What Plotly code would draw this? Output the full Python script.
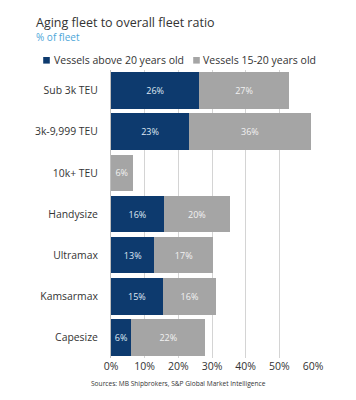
import plotly.graph_objects as go

categories = ["Sub 3k TEU", "3k-9,999 TEU", "10k+ TEU", "Handysize", "Ultramax", "Kamsarmax", "Capesize"]
above20 = [26.2, 23.2, 0, 15.7, 12.9, 15.4, 6.0]
age15to20 = [26.6, 36.1, 6.4, 19.6, 17.4, 15.8, 22.0]
above20_labels = ["26%", "23%", "", "16%", "13%", "15%", "6%"]
age15to20_labels = ["27%", "36%", "6%", "20%", "17%", "16%", "22%"]
series_names = ["Vessels above 20 years old", "Vessels 15-20 years old"]
x_ticks = [0, 10, 20, 30, 40, 50, 60]
x_ticklabels = ["0%", "10%", "20%", "30%", "40%", "50%", "60%"]

FONT = "Open Sans"
NAVY = "#0d3a6e"
GRAY = "#a5a5a5"
TXT = "#333333"
# page body has an 8px margin, so the figure is laid out 8px up/left
W, H = 340, 384
L, R, T, B = 103, 35, 62, 34
PW, PH = W - L - R, H - T - B


def px_x(x):
    return (x - L) / PW


def px_y(y):
    return (H - B - y) / PH


fig = go.Figure()
fig.add_trace(go.Bar(
    y=categories, x=above20, orientation="h", name=series_names[0],
    marker=dict(color=NAVY, line=dict(width=0)),
    text=above20_labels, textposition="inside", insidetextanchor="middle",
    textfont=dict(color="#dfe8f3", size=9, family=FONT),
))
fig.add_trace(go.Bar(
    y=categories, x=age15to20, orientation="h", name=series_names[1],
    marker=dict(color=GRAY, line=dict(width=0)),
    text=age15to20_labels, textposition="inside", insidetextanchor="middle",
    textfont=dict(color="#f2f2f2", size=9, family=FONT),
))

# custom legend (square + label) to match the compact reference legend
legend_items = [(38.5, 44, NAVY, series_names[0]), (188.5, 193, GRAY, series_names[1])]
LEG_Y = 52.3
SQ = 3.3
shapes = []
annotations = []
for cx, tx, col, name in legend_items:
    shapes.append(dict(type="rect", xref="paper", yref="paper",
                       x0=px_x(cx - SQ), x1=px_x(cx + SQ),
                       y0=px_y(LEG_Y + SQ), y1=px_y(LEG_Y - SQ),
                       fillcolor=col, line=dict(width=0)))
    annotations.append(dict(text=name, xref="paper", yref="paper",
                            x=px_x(tx), y=px_y(LEG_Y), xanchor="left", yanchor="middle",
                            showarrow=False, font=dict(size=10.5, color=TXT, family=FONT)))

annotations += [
    dict(text="Aging fleet to overall fleet ratio", xref="paper", yref="paper",
         x=px_x(26), y=px_y(14.5), xanchor="left", yanchor="middle",
         showarrow=False, font=dict(size=12.5, color=TXT, family=FONT)),
    dict(text="% of fleet", xref="paper", yref="paper",
         x=px_x(26), y=px_y(29.5), xanchor="left", yanchor="middle",
         showarrow=False, font=dict(size=10, color="#4da6d9", family=FONT)),
    dict(text="Sources: MB Shipbrokers, S&P Global Market Intelligence", xref="paper", yref="paper",
         x=px_x(170), y=px_y(375), xanchor="center", yanchor="middle",
         showarrow=False, font=dict(size=6.6, color=TXT, family=FONT)),
]

fig.update_layout(
    width=W, height=H,
    barmode="stack", bargap=0.11,
    margin=dict(l=L, r=R, t=T, b=B, autoexpand=False),
    plot_bgcolor="white", paper_bgcolor="white",
    font=dict(family=FONT, color=TXT, size=10.5),
    uniformtext=dict(minsize=6, mode="show"),
    showlegend=False,
    xaxis=dict(range=[0, 60], tickvals=x_ticks, ticktext=x_ticklabels,
               showgrid=True, gridcolor="#d4d4d4", gridwidth=1,
               zeroline=False, showline=False, ticks="", automargin=False,
               tickfont=dict(size=10.5, color=TXT)),
    yaxis=dict(autorange="reversed", showgrid=False, ticks="", ticklabelstandoff=10,
               showline=True, linecolor="#bfbfbf", linewidth=1, automargin=False,
               tickfont=dict(size=10.4, color=TXT)),
    shapes=shapes,
    annotations=annotations,
)

fig.write_html("out.html")
